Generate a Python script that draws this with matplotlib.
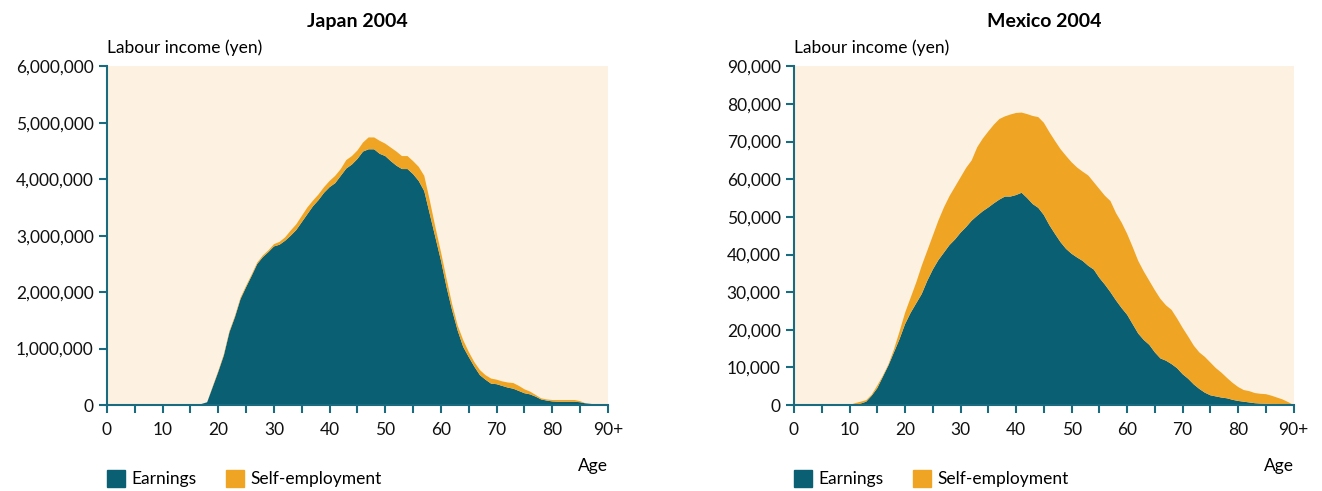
import matplotlib.pyplot as plt
from matplotlib.patches import Patch
from matplotlib.ticker import FuncFormatter, MultipleLocator

plt.rcParams['font.family'] = ['Lato', 'DejaVu Sans']

ages = list(range(0, 91))

# Japan 2004, labour income in yen by age
japan_earnings = [0] * 17 + [
    20000, 50000, 320000, 590000, 880000, 1290000, 1560000, 1880000, 2090000, 2290000,
    2500000, 2620000, 2710000, 2810000, 2840000, 2910000, 3000000, 3100000, 3240000, 3380000,
    3520000, 3630000, 3760000, 3860000, 3930000, 4060000, 4190000, 4260000, 4360000, 4490000,
    4530000, 4530000, 4450000, 4410000, 4320000, 4240000, 4180000, 4180000, 4090000, 3970000,
    3790000, 3380000, 2970000, 2560000, 2090000, 1680000, 1320000, 1030000, 850000, 680000,
    530000, 450000, 380000, 370000, 340000, 310000, 290000, 250000, 210000, 190000,
    150000, 100000, 80000, 65000, 60000, 60000, 60000, 60000, 50000, 30000,
    20000, 10000, 5000, 0]
japan_self = [0] * 17 + [
    0, 0, 10000, 15000, 20000, 20000, 20000, 25000, 25000, 25000,
    25000, 30000, 30000, 40000, 50000, 60000, 90000, 100000, 110000, 120000,
    100000, 100000, 100000, 110000, 130000, 120000, 150000, 150000, 150000, 160000,
    210000, 210000, 230000, 220000, 240000, 250000, 230000, 230000, 230000, 250000,
    270000, 240000, 180000, 150000, 150000, 110000, 90000, 120000, 90000, 80000,
    90000, 80000, 90000, 80000, 80000, 90000, 100000, 90000, 70000, 50000,
    30000, 20000, 20000, 25000, 30000, 30000, 30000, 30000, 20000, 0,
    0, 0, 0, 0]

# Mexico 2004, labour income by age
mexico_earnings = [0] * 11 + [
    100, 400, 900, 2500, 4500, 7500, 10500, 14000, 17500, 21500,
    24500, 27000, 29500, 33000, 36000, 38500, 40500, 42500, 44000, 45800,
    47300, 49000, 50300, 51500, 52500, 53600, 54600, 55400, 55400, 55800,
    56400, 55000, 53400, 52400, 50500, 47800, 45500, 43300, 41500, 40200,
    39200, 38300, 37000, 36000, 33800, 32000, 30000, 27800, 25800, 24000,
    21500, 19000, 17300, 16000, 14000, 12400, 11800, 10900, 9800, 8200,
    7000, 5500, 4300, 3300, 2600, 2300, 2000, 1800, 1400, 1100,
    900, 700, 500, 400, 350, 300, 300, 250, 150, 0]
mexico_self = [0] * 11 + [
    400, 500, 400, 300, 700, 300, 300, 800, 2000, 3000,
    4000, 5500, 7500, 8000, 9000, 10500, 12000, 13000, 14000, 14700,
    15700, 16000, 18200, 19300, 20200, 20900, 21400, 21300, 21800, 21800,
    21300, 22300, 23400, 24100, 24500, 24700, 24700, 24700, 24700, 24300,
    23900, 23700, 24000, 23200, 23600, 23600, 24200, 23200, 22700, 21500,
    20500, 19300, 18200, 17000, 16500, 15800, 14700, 14400, 13200, 12300,
    11200, 10300, 9700, 9500, 8700, 7500, 6600, 5400, 4500, 3700,
    3100, 3000, 2700, 2600, 2550, 2200, 1700, 1250, 650, 0]

x_labels = ['0', '10', '20', '30', '40', '50', '60', '70', '80', '90+']

teal = '#0a5f73'
orange = '#f0a423'
cream = '#fdf1e1'
axis_col = '#1b6b80'

fig = plt.figure(figsize=(13.22, 4.91), dpi=100)
ax1 = fig.add_axes([0.0809, 0.175, 0.379, 0.690])
ax2 = fig.add_axes([0.6006, 0.175, 0.378, 0.690])


def draw(ax, earn, selfemp, ymax, ystep, title):
    ax.set_facecolor(cream)
    ax.stackplot(ages, earn, selfemp, colors=[teal, orange], linewidth=0)
    ax.set_xlim(0, 90)
    ax.set_ylim(0, ymax)
    ax.xaxis.set_minor_locator(MultipleLocator(5))
    ax.set_xticks(range(0, 91, 10))
    ax.set_xticklabels(x_labels)
    ax.yaxis.set_major_locator(MultipleLocator(ystep))
    ax.yaxis.set_major_formatter(FuncFormatter(lambda v, p: f'{int(v):,}'))
    for s in ['top', 'right']:
        ax.spines[s].set_visible(False)
    for s in ['left', 'bottom']:
        ax.spines[s].set_color(axis_col)
        ax.spines[s].set_linewidth(1.5)
    ax.tick_params(which='both', colors=axis_col, width=1.5, length=6, labelcolor='#111111',
                   labelsize=12.5)
    ax.tick_params(axis='x', pad=6)
    ax.set_title(title, fontsize=14, fontweight='bold', pad=28)
    ax.text(0, 1.03, 'Labour income (yen)', transform=ax.transAxes, fontsize=12.5,
            ha='left', va='bottom')
    ax.text(1.0, -0.155, 'Age', transform=ax.transAxes, fontsize=12.5, ha='right', va='top')
    handles = [Patch(color=teal, label='Earnings'), Patch(color=orange, label='Self-employment')]
    ax.legend(handles=handles, loc='center left', bbox_to_anchor=(0, -0.218), ncol=2,
              frameon=False, fontsize=12.5, handlelength=1.05, handleheight=1.05,
              handletextpad=0.35, columnspacing=1.7, borderpad=0, borderaxespad=0)


draw(ax1, japan_earnings, japan_self, 6000000, 1000000, 'Japan 2004')
draw(ax2, mexico_earnings, mexico_self, 90000, 10000, 'Mexico 2004')

fig.savefig('out.png', dpi=100)
